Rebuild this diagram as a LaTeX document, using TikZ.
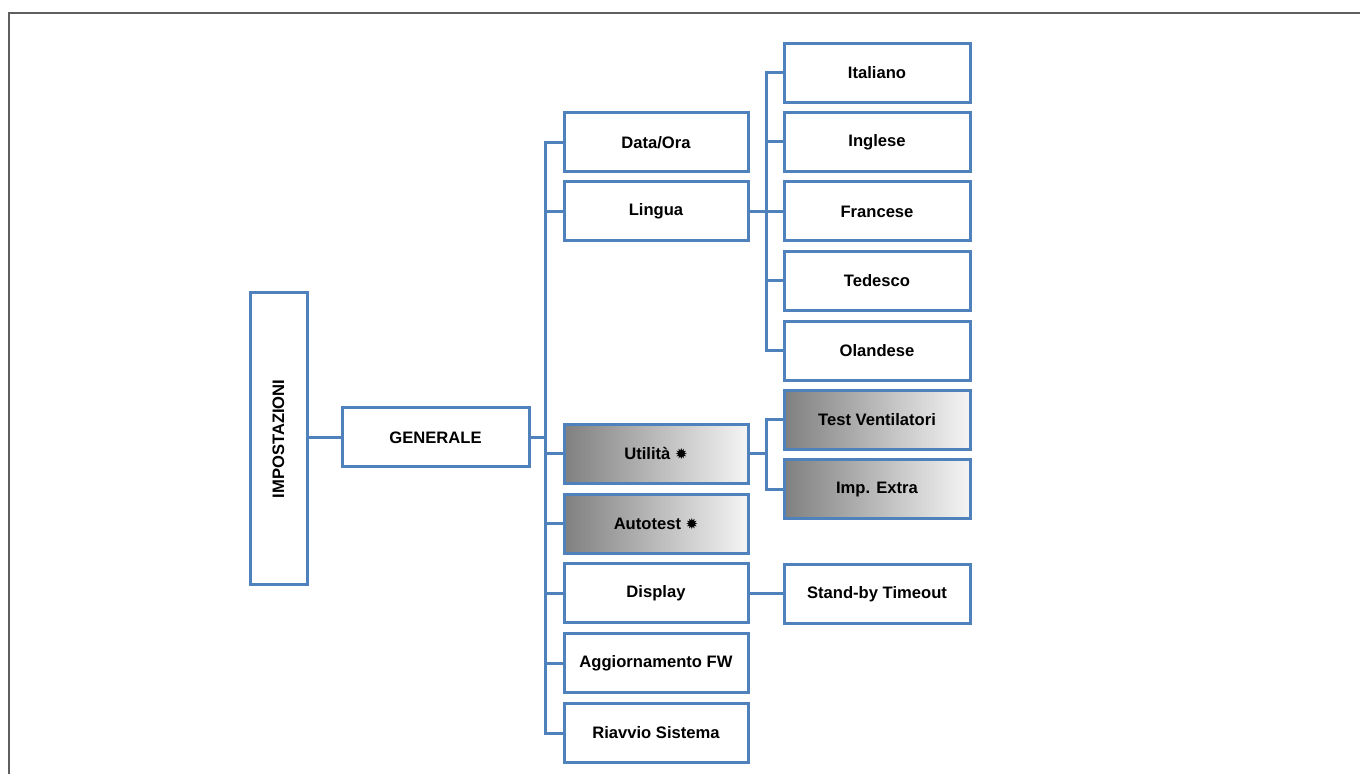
\documentclass[tikz,border=0pt]{standalone}
\usepackage{fontspec}
\setmainfont{Liberation Sans}
\newfontfamily\symfont{DejaVu Sans}
\usepackage{xcolor}
\usepackage{tikz}

\definecolor{menublue}{HTML}{4F81BD}
\definecolor{framegray}{HTML}{5F5F5F}
\newcommand{\extramark}{{\symfont\fontsize{7.5}{7.5}\selectfont ✹}}

\tikzset{
    menubox/.style={draw=menublue, line width=1.5pt, fill=white, inner sep=0pt,
        minimum width=92pt, minimum height=29.5pt,
        font=\fontsize{8.3}{10}\selectfont\bfseries},
    shadebox/.style={menubox, left color=black!50, right color=black!4},
    link/.style={draw=menublue, line width=1.5pt, line cap=rect},
}

\begin{document}
\begin{tikzpicture}[x=0.5pt, y=-0.5pt]
            \useasboundingbox (0,0) rectangle (1360,774);
            \draw[framegray, line width=1pt] (9,774) -- (9,13) -- (1360,13);

            \node[menubox, minimum width=28.5pt, minimum height=146pt] (imp) at (278.5,439)
                {\rotatebox{90}{IMPOSTAZIONI}};
            \node[menubox, minimum width=93.5pt] (gen) at (435.5,437.5) {GENERALE};

            \foreach \name/\y/\txt in {dat/142.5/{Data/Ora}, lin/211.5/Lingua,
                dis/593.5/Display, agg/663/{Aggiornamento FW}, ria/733/{Riavvio Sistema}} {
                \node[menubox] (\name) at (656,\y) {\txt};
            }
            \node[shadebox] (uti) at (656,454) {Utilità \extramark};
            \node[shadebox] (aut) at (656,524) {Autotest \extramark};

            \foreach \name/\y/\txt in {ita/73/Italiano, ing/142/Inglese, fra/211.5/Francese,
                ted/281/Tedesco, ola/351/Olandese, sby/594/{Stand-by Timeout}} {
                \node[menubox, minimum width=93pt] (\name) at (877,\y) {\txt};
            }
            \node[shadebox, minimum width=93pt] (tve) at (877,420) {Test Ventilatori};
            \node[shadebox, minimum width=93pt] (ext) at (877,489.5) {Imp. Extra};

            \coordinate (t1) at (545,0);
            \coordinate (t2) at (766.5,0);

            \draw[link] (gen.west) -- (gen.west -| imp.east);
            \draw[link] (gen.east) -- (gen.east -| t1);
            \draw[link] (dat.west -| t1) -- (ria.west -| t1);
            \foreach \n in {dat, lin, uti, aut, dis, agg, ria} {
                \draw[link] (\n.west) -- (\n.west -| t1);
            }

            \draw[link] (lin.east) -- (lin.east -| t2);
            \draw[link] (ita.west -| t2) -- (ola.west -| t2);
            \foreach \n in {ita, ing, fra, ted, ola} {
                \draw[link] (\n.west) -- (\n.west -| t2);
            }

            \draw[link] (uti.east) -- (uti.east -| t2);
            \draw[link] (tve.west -| t2) -- (ext.west -| t2);
            \foreach \n in {tve, ext} {
                \draw[link] (\n.west) -- (\n.west -| t2);
            }

            \draw[link] (dis.east) -- (dis.east -| sby.west);
        \end{tikzpicture}
\end{document}
